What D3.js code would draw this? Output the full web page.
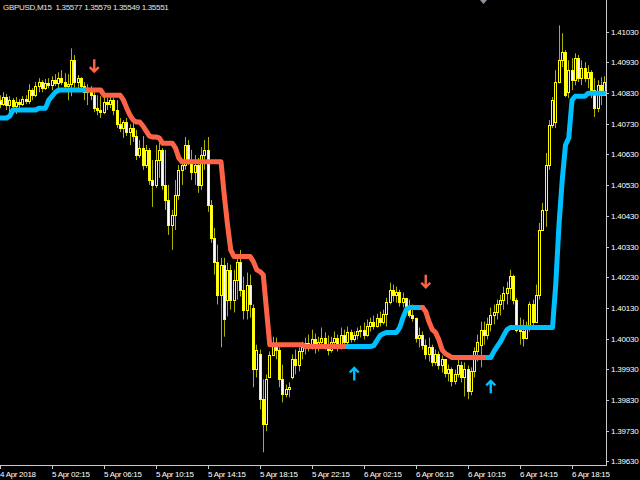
<!DOCTYPE html>
<html><head><meta charset="utf-8">
<script src="https://cdn.jsdelivr.net/npm/d3@7"></script>
<style>html,body{margin:0;padding:0;background:#000;overflow:hidden}</style>
</head><body>
<svg id="c" width="640" height="480"></svg>
<script>
const title = "GBPUSD,M15  1.35577 1.35579 1.35549 1.35551";

const openP = [
1.40807,1.40794,1.40817,1.40791,1.40807,1.40788,1.40801,1.40794,1.40810,1.40804,
1.40840,1.40823,1.40853,1.40866,1.40846,1.40862,1.40856,1.40872,1.40862,1.40879,
1.40866,1.40853,1.40859,1.40937,1.40866,1.40879,1.40853,1.40833,1.40846,1.40823,
1.40781,1.40775,1.40768,1.40801,1.40794,1.40807,1.40775,1.40729,1.40716,1.40736,
1.40703,1.40716,1.40690,1.40628,1.40651,1.40596,1.40645,1.40547,1.40531,1.40612,
1.40645,1.40531,1.40482,1.40401,1.40433,1.40498,1.40580,1.40596,1.40661,1.40612,
1.40573,1.40596,1.40531,1.40628,1.40645,1.40466,1.40358,1.40280,1.40173,1.40271,
1.40157,1.40254,1.40157,1.40222,1.40280,1.40189,1.40124,1.40206,1.40131,1.39929,
1.39978,1.39832,1.39750,1.39903,1.39975,1.40010,1.39994,1.39897,1.39848,1.39864,
1.39903,1.39962,1.39945,1.39988,1.40001,1.40017,1.40007,1.40027,1.40004,1.40020,
1.40033,1.40010,1.39994,1.40020,1.40033,1.40007,1.40043,1.40020,1.40050,1.40027,
1.40043,1.40053,1.40059,1.40040,1.40072,1.40085,1.40072,1.40098,1.40085,1.40111,
1.40150,1.40189,1.40173,1.40183,1.40150,1.40163,1.40137,1.40108,1.40098,1.40033,
1.40043,1.40010,1.39978,1.40001,1.39955,1.39978,1.39945,1.39962,1.39916,1.39929,
1.39890,1.39913,1.39945,1.39903,1.39929,1.39858,1.39923,1.39988,1.40010,1.40059,
1.40040,1.40076,1.40108,1.40118,1.40144,1.40157,1.40180,1.40196,1.40235,1.40157,
1.40059,1.40053,1.40033,1.40072,1.40141,1.40085,1.40173,1.40384,1.40449,1.40596,
1.40726,1.40736,1.40866,1.40937,1.40963,1.40833,1.40905,1.40872,1.40944,1.40879,
1.40911,1.40879,1.40898,1.40840,1.40781,1.40856,1.40823];

const highP = [
1.40823,1.40833,1.40827,1.40820,1.40814,1.40817,1.40810,1.40820,1.40823,1.40859,
1.40846,1.40866,1.40879,1.40872,1.40876,1.40879,1.40885,1.40892,1.40898,1.40905,
1.40895,1.40892,1.40976,1.40954,1.40889,1.40882,1.40866,1.40859,1.40853,1.40846,
1.40823,1.40820,1.40823,1.40814,1.40820,1.40814,1.40807,1.40749,1.40742,1.40749,
1.40729,1.40742,1.40710,1.40677,1.40690,1.40661,1.40651,1.40612,1.40661,1.40671,
1.40651,1.40645,1.40531,1.40449,1.40547,1.40596,1.40612,1.40687,1.40677,1.40645,
1.40628,1.40619,1.40654,1.40677,1.40687,1.40482,1.40391,1.40336,1.40293,1.40293,
1.40277,1.40271,1.40254,1.40303,1.40319,1.40232,1.40245,1.40238,1.40141,1.40010,
1.39994,1.39897,1.39913,1.39988,1.40036,1.40033,1.40001,1.39945,1.39880,1.39887,
1.39978,1.39994,1.40001,1.40020,1.40033,1.40043,1.40059,1.40046,1.40036,1.40066,
1.40050,1.40040,1.40036,1.40053,1.40043,1.40066,1.40059,1.40069,1.40059,1.40053,
1.40066,1.40072,1.40082,1.40092,1.40098,1.40105,1.40111,1.40118,1.40124,1.40163,
1.40212,1.40206,1.40199,1.40189,1.40180,1.40163,1.40157,1.40141,1.40098,1.40066,
1.40053,1.40027,1.40033,1.40010,1.39994,1.39988,1.39975,1.39955,1.39945,1.39936,
1.39929,1.39962,1.39955,1.39952,1.39942,1.39936,1.40001,1.40043,1.40085,1.40085,
1.40098,1.40131,1.40141,1.40157,1.40173,1.40199,1.40215,1.40254,1.40238,1.40163,
1.40098,1.40092,1.40085,1.40150,1.40157,1.40206,1.40407,1.40472,1.40635,1.40742,
1.40817,1.40905,1.41051,1.41025,1.40970,1.40937,1.40944,1.40960,1.40954,1.40937,
1.40931,1.40921,1.40905,1.40879,1.40872,1.40882,1.40885];

const lowP = [
1.40781,1.40788,1.40775,1.40768,1.40775,1.40762,1.40781,1.40788,1.40794,1.40794,
1.40807,1.40817,1.40833,1.40833,1.40840,1.40846,1.40840,1.40853,1.40846,1.40856,
1.40840,1.40807,1.40820,1.40833,1.40846,1.40840,1.40807,1.40791,1.40807,1.40768,
1.40758,1.40749,1.40762,1.40775,1.40781,1.40758,1.40716,1.40703,1.40684,1.40690,
1.40661,1.40671,1.40612,1.40619,1.40580,1.40586,1.40531,1.40459,1.40521,1.40554,
1.40515,1.40449,1.40368,1.40319,1.40384,1.40482,1.40531,1.40580,1.40596,1.40547,
1.40531,1.40505,1.40515,1.40580,1.40443,1.40342,1.40238,1.40141,1.40001,1.40036,
1.40102,1.40124,1.40115,1.40157,1.40167,1.40092,1.40092,1.40098,1.39871,1.39903,
1.39799,1.39659,1.39728,1.39903,1.39978,1.39962,1.39871,1.39822,1.39838,1.39838,
1.39897,1.39913,1.39923,1.39962,1.39978,1.39988,1.39994,1.39981,1.39988,1.40001,
1.39994,1.39975,1.39984,1.39997,1.39988,1.39994,1.40004,1.40010,1.40017,1.40020,
1.40027,1.40033,1.40027,1.40036,1.40053,1.40059,1.40066,1.40069,1.40076,1.40069,
1.40141,1.40150,1.40147,1.40134,1.40131,1.40124,1.40098,1.40085,1.40017,1.40001,
1.39994,1.39962,1.39955,1.39939,1.39942,1.39929,1.39919,1.39903,1.39890,1.39874,
1.39880,1.39903,1.39887,1.39841,1.39832,1.39845,1.39903,1.39955,1.39936,1.40010,
1.40027,1.40053,1.40076,1.40092,1.40105,1.40124,1.40141,1.40157,1.40141,1.40050,
1.40010,1.40004,1.40027,1.40053,1.40066,1.40082,1.40157,1.40384,1.40394,1.40580,
1.40716,1.40716,1.40862,1.40915,1.40817,1.40814,1.40840,1.40856,1.40866,1.40856,
1.40866,1.40846,1.40814,1.40752,1.40768,1.40791,1.40833];

const closeP = [
1.40794,1.40817,1.40791,1.40807,1.40788,1.40801,1.40794,1.40810,1.40804,1.40840,
1.40823,1.40853,1.40866,1.40846,1.40862,1.40856,1.40872,1.40862,1.40879,1.40866,
1.40853,1.40859,1.40937,1.40866,1.40879,1.40853,1.40833,1.40846,1.40823,1.40781,
1.40775,1.40768,1.40801,1.40794,1.40807,1.40775,1.40729,1.40716,1.40736,1.40703,
1.40716,1.40690,1.40628,1.40651,1.40596,1.40645,1.40547,1.40531,1.40612,1.40645,
1.40531,1.40482,1.40401,1.40433,1.40498,1.40580,1.40596,1.40661,1.40612,1.40573,
1.40596,1.40531,1.40628,1.40645,1.40466,1.40358,1.40280,1.40173,1.40271,1.40092,
1.40254,1.40157,1.40222,1.40280,1.40189,1.40124,1.40206,1.40141,1.39929,1.39994,
1.39832,1.39750,1.39897,1.39975,1.40010,1.39994,1.39897,1.39848,1.39864,1.39871,
1.39962,1.39945,1.39988,1.40001,1.40017,1.40007,1.40027,1.40004,1.40020,1.40033,
1.40010,1.39994,1.40020,1.40033,1.40007,1.40043,1.40020,1.40050,1.40027,1.40043,
1.40053,1.40059,1.40040,1.40072,1.40085,1.40072,1.40098,1.40085,1.40111,1.40150,
1.40189,1.40173,1.40183,1.40150,1.40163,1.40137,1.40108,1.40098,1.40033,1.40043,
1.40010,1.39978,1.40001,1.39955,1.39978,1.39945,1.39962,1.39916,1.39929,1.39890,
1.39913,1.39945,1.39903,1.39929,1.39858,1.39923,1.39988,1.40020,1.40059,1.40040,
1.40076,1.40108,1.40118,1.40144,1.40157,1.40180,1.40196,1.40235,1.40157,1.40059,
1.40053,1.40033,1.40072,1.40141,1.40085,1.40173,1.40384,1.40449,1.40596,1.40726,
1.40807,1.40866,1.40937,1.40963,1.40823,1.40905,1.40872,1.40944,1.40879,1.40911,
1.40879,1.40898,1.40840,1.40781,1.40856,1.40823,1.40866];

const signalP = [
1.40749,1.40749,1.40749,1.40755,
1.40775,1.40775,1.40775,1.40775,1.40775,1.40775,1.40775,1.40775,
1.40781,1.40781,1.40781,
1.40807,1.40820,1.40833,
1.40840,1.40840,1.40840,1.40840,1.40840,1.40840,1.40840,1.40840,1.40840,1.40840,1.40840,1.40840,1.40840,1.40840,
1.40823,1.40823,1.40823,1.40823,1.40823,1.40823,
1.40807,1.40781,1.40758,1.40742,1.40736,1.40736,1.40723,1.40706,1.40690,1.40687,1.40687,1.40684,
1.40667,1.40667,1.40667,1.40667,
1.40651,1.40619,
1.40606,1.40606,1.40606,1.40606,1.40606,1.40606,1.40606,1.40606,1.40606,1.40606,1.40606,1.40606,1.40606,
1.40498,1.40401,1.40319,
1.40297,1.40297,1.40297,1.40297,1.40297,1.40297,
1.40280,1.40254,1.40248,1.40238,1.40124,
1.40010,1.40010,1.40010,1.40010,1.40010,1.40010,1.40010,1.40010,1.40010,1.40010,1.40010,
1.40004,1.40004,1.40004,1.40004,1.40004,1.40004,1.40004,1.40004,1.40004,1.40004,1.40004,
1.40004,1.40004,1.40004,1.40004,1.40004,1.40004,1.40004,1.40004,1.40004,1.40004,
1.40007,1.40024,1.40040,1.40046,
1.40050,1.40050,1.40050,1.40050,
1.40066,1.40098,1.40124,
1.40131,1.40131,1.40131,1.40131,1.40131,
1.40118,1.40085,1.40059,1.40050,1.40027,1.39994,1.39981,1.39975,
1.39968,1.39968,1.39968,1.39968,1.39968,1.39968,1.39968,1.39968,1.39968,1.39968,1.39968,1.39968,1.39968,
1.39988,1.40004,1.40020,1.40040,1.40059,
1.40066,1.40066,1.40066,1.40066,1.40066,1.40066,1.40066,1.40066,1.40066,1.40066,1.40066,1.40066,1.40066,1.40066,
1.40206,1.40401,1.40547,1.40661,1.40684,1.40807,
1.40820,1.40820,1.40820,1.40820,
1.40830,1.40830,1.40830,1.40830,1.40830,1.40830];

const trendStart = [0, 28, 108, 131, 151];
const trendDir   = ["up", "down", "up", "down", "up"];

const arrowDownIdx = [29, 131];
const arrowDownPrice = [1.40918, 1.40215];
const arrowUpIdx = [109, 151];
const arrowUpPrice = [1.39916, 1.39874];

const priceTicks = [1.41030,1.40930,1.40830,1.40730,1.40630,1.40530,1.40430,1.40330,
                    1.40230,1.40130,1.40030,1.39930,1.39830,1.39730,1.39630];
const timeTickIdx = [0,16,32,48,64,80,96,112,128,144,160,176];
const timeTickLabels = ["4 Apr 2018","5 Apr 02:15","5 Apr 06:15","5 Apr 10:15","5 Apr 14:15",
  "5 Apr 18:15","5 Apr 22:15","6 Apr 02:15","6 Apr 06:15","6 Apr 10:15","6 Apr 14:15","6 Apr 18:15"];

const UP = "#00BFFF", DOWN = "#FF6347", CANDLE = "#FFFF00", WICK = "#B0B000";
const plotR = 606, plotB = 465;
const FONT = "'Liberation Sans', Arial, sans-serif";

const svg = d3.select("#c");
svg.append("rect").attr("width",640).attr("height",480).attr("fill","#000");

const x = d3.scaleLinear().domain([0, 186]).range([0, 604.5]);
const y = d3.scaleLinear().domain([1.39630, 1.41030]).range([461.2, 31.8]);

svg.append("clipPath").attr("id","plot").append("rect")
  .attr("x",0).attr("y",0).attr("width",plotR).attr("height",plotB);
const g = svg.append("g").attr("clip-path","url(#plot)");

const bars = d3.range(openP.length).map(i => ({i, o:openP[i], h:highP[i], l:lowP[i], c:closeP[i]}));
const px = i => Math.floor(x(i));

g.selectAll("line.wick").data(bars).join("line").attr("class","wick")
  .attr("x1", d => px(d.i)+0.5).attr("x2", d => px(d.i)+0.5)
  .attr("y1", d => y(d.h)).attr("y2", d => y(d.l))
  .attr("stroke", WICK).attr("stroke-width",1);

g.selectAll("rect.body").data(bars).join("rect").attr("class","body")
  .attr("x", d => px(d.i)-0.5).attr("width", 2)
  .attr("y", d => Math.round(y(Math.max(d.o,d.c)))+0.5)
  .attr("height", d => Math.max(0, Math.round(y(Math.min(d.o,d.c))) - Math.round(y(Math.max(d.o,d.c)))))
  .attr("fill", d => d.c < d.o ? "#FFFFFF" : "#000000")
  .attr("stroke", CANDLE).attr("stroke-width",1);

// indicator line, coloured by trend runs
const line = d3.line().x(i => x(i)).y(i => y(signalP[i]));
trendStart.forEach((s, k) => {
  const last = k < trendStart.length-1;
  const e = last ? trendStart[k+1] : signalP.length;
  const from = Math.max(0, s-1);
  g.append("path").datum(d3.range(from, e))
    .attr("d", line).attr("fill","none")
    .attr("stroke", trendDir[k]==="up" ? UP : DOWN)
    .attr("stroke-width",5).attr("stroke-linejoin","round").attr("stroke-linecap","round");
});

function arrow(cx, cy, dir) {
  const s = dir;
  return `M${cx},${cy-7*s}L${cx},${cy+5.5*s}M${cx-4.5},${cy+1*s}L${cx},${cy+5.5*s}L${cx+4.5},${cy+1*s}`;
}
arrowDownIdx.forEach((idx,k) => {
  g.append("path").attr("d", arrow(x(idx), y(arrowDownPrice[k]), 1))
    .attr("fill","none").attr("stroke",DOWN).attr("stroke-width",2.4);
});
arrowUpIdx.forEach((idx,k) => {
  g.append("path").attr("d", arrow(x(idx), y(arrowUpPrice[k]), -1))
    .attr("fill","none").attr("stroke",UP).attr("stroke-width",2.4);
});

// axes
const AX = "#c8c8c8";
svg.append("line").attr("x1",plotR+0.5).attr("x2",plotR+0.5).attr("y1",0).attr("y2",plotB+0.5)
  .attr("stroke",AX);
svg.append("line").attr("x1",0).attr("x2",plotR+1).attr("y1",plotB+0.5).attr("y2",plotB+0.5)
  .attr("stroke",AX);

const yAxis = svg.append("g");
priceTicks.forEach(p => {
  const yy = Math.round(y(p)) + 0.5;
  yAxis.append("line").attr("x1",plotR).attr("x2",plotR+3).attr("y1",yy).attr("y2",yy).attr("stroke",AX);
  yAxis.append("text").attr("x",611).attr("y",y(p)+3)
    .attr("fill","#ffffff").attr("font-family",FONT).attr("letter-spacing","-0.2px")
    .attr("font-size","8px").text(d3.format(".5f")(p));
});

const xAxis = svg.append("g");
timeTickIdx.forEach((idx,k) => {
  const xx = Math.round(x(idx)) + 0.5;
  xAxis.append("line").attr("x1",xx).attr("x2",xx).attr("y1",plotB).attr("y2",plotB+4).attr("stroke",AX);
  xAxis.append("text").attr("x", Math.round(x(idx))).attr("y",477)
    .attr("fill","#ffffff").attr("font-family",FONT).attr("letter-spacing","-0.3px")
    .attr("font-size","8px").text(timeTickLabels[k]);
});

svg.append("text").attr("x",3).attr("y",10).style("white-space","pre")
  .attr("fill","#e6e6e6").attr("font-family",FONT).attr("letter-spacing","-0.3px")
  .attr("font-size","8px").text(title);

// chart shift marker
svg.append("path").attr("d","M480,0L487,0L483.5,4Z").attr("fill","#8a94a0");
</script>
</body></html>
